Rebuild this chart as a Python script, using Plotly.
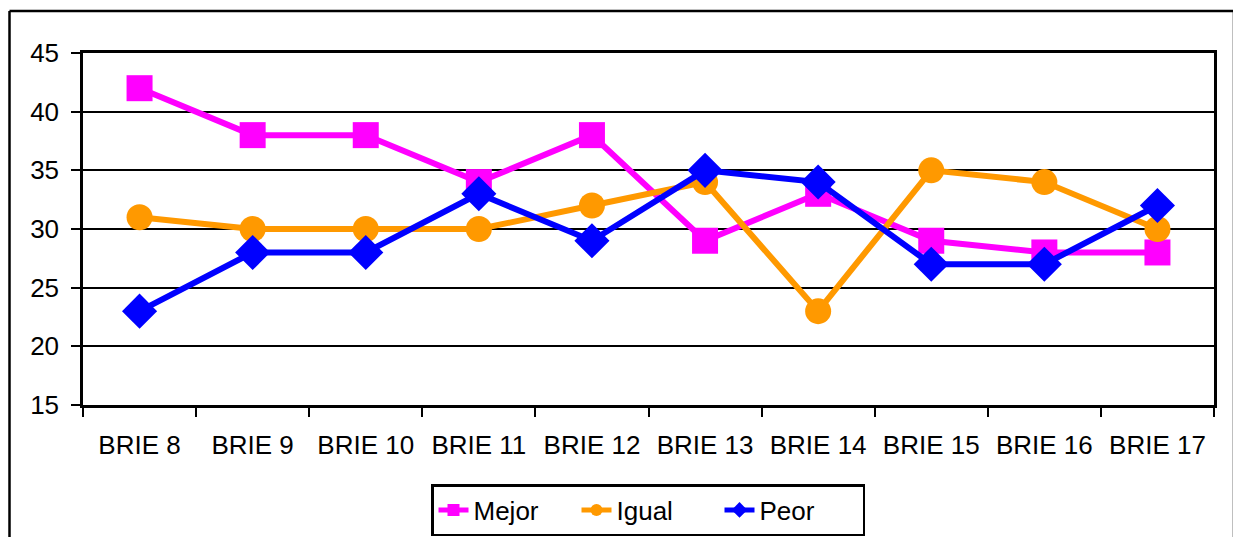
import plotly.graph_objects as go

categories = ["BRIE 8", "BRIE 9", "BRIE 10", "BRIE 11", "BRIE 12",
              "BRIE 13", "BRIE 14", "BRIE 15", "BRIE 16", "BRIE 17"]
mejor = [42, 38, 38, 34, 38, 29, 33, 29, 28, 28]
igual = [31, 30, 30, 30, 32, 34, 23, 35, 34, 30]
peor = [23, 28, 28, 33, 29, 35, 34, 27, 27, 32]

font_name = "Liberation Sans, Arial, sans-serif"
W, H = 1233, 529
B = 60          # bottom margin that holds the legend
PH = H - B      # paper height

fig = go.Figure()
fig.add_trace(go.Scatter(x=categories, y=mejor, name="Mejor", mode="lines+markers",
                         line=dict(color="#ff00ff", width=6),
                         marker=dict(symbol="square", size=26, color="#ff00ff")))
fig.add_trace(go.Scatter(x=categories, y=igual, name="Igual", mode="lines+markers",
                         line=dict(color="#ff9900", width=6),
                         marker=dict(symbol="circle", size=26, color="#ff9900")))
fig.add_trace(go.Scatter(x=categories, y=peor, name="Peor", mode="lines+markers",
                         line=dict(color="#0000ff", width=6),
                         marker=dict(symbol="diamond", size=27, color="#0000ff")))

# outer chart border (bottom runs past the window edge)
bx0, bx1, by1 = 1.5 / W, 1226 / W, 1 - 3 / PH
border = dict(color="black", width=2.5)
fig.add_shape(type="line", xref="paper", yref="paper", x0=bx0, x1=bx0, y0=-0.2, y1=by1, line=border)
fig.add_shape(type="line", xref="paper", yref="paper", x0=bx1, x1=bx1, y0=-0.2, y1=by1, line=border)
fig.add_shape(type="line", xref="paper", yref="paper", x0=bx0, x1=bx1, y0=by1, y1=by1, line=border)

fig.update_xaxes(type="category", range=[-0.5, 9.5], domain=[75 / W, 1206 / W],
                 showgrid=False, automargin=False,
                 showline=True, linecolor="black", linewidth=2.5, mirror=True,
                 ticks="outside", tickson="boundaries", ticklen=9, tickwidth=2, tickcolor="black",
                 ticklabelstandoff=15, tickfont=dict(size=26, color="black"))
fig.update_yaxes(range=[15, 45], dtick=5, domain=[1 - 397 / PH, 1 - 45 / PH],
                 showgrid=True, gridcolor="black", gridwidth=2, automargin=False,
                 showline=True, linecolor="black", linewidth=2.5, mirror=True,
                 ticks="outside", ticklen=9, tickwidth=2, tickcolor="black",
                 ticklabelstandoff=7, tickfont=dict(size=26, color="black"), zeroline=False)

fig.update_layout(
    width=W, height=H, margin=dict(l=0, r=0, t=0, b=B),
    paper_bgcolor="white", plot_bgcolor="white",
    font=dict(family=font_name, size=26, color="black"),
    showlegend=True,
    legend=dict(orientation="h", xref="container", yref="container",
                x=640 / W, xanchor="center", y=1 - 502 / H, yanchor="middle",
                bordercolor="black", borderwidth=2.5, bgcolor="white",
                entrywidth=98, entrywidthmode="pixels",
                font=dict(size=26), itemsizing="constant", tracegroupgap=0),
)

fig.write_html("out.html", config={"displayModeBar": False})
